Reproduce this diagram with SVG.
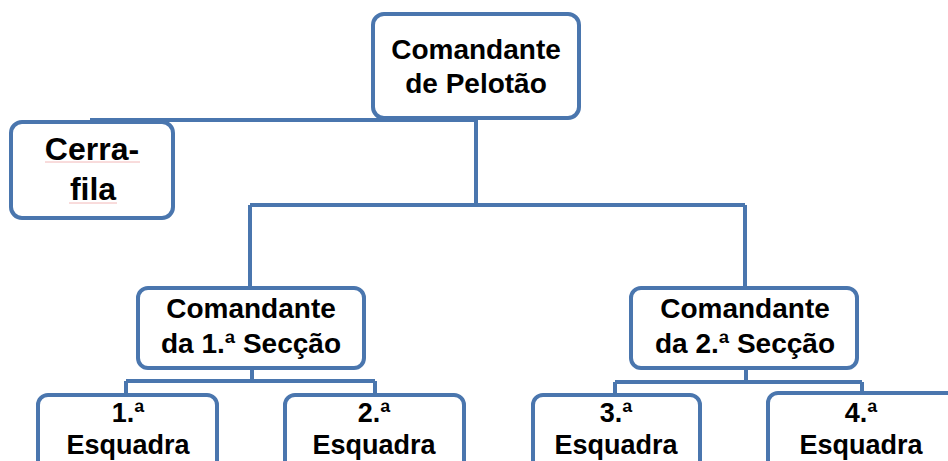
<svg xmlns="http://www.w3.org/2000/svg" width="948" height="461" viewBox="0 0 948 461">
<style>
.box{fill:#fff;stroke:#4A76AE;stroke-width:4}
.conn{fill:none;stroke:#4A76AE;stroke-width:4}
text{font-family:"Liberation Sans",Arial,sans-serif;font-weight:bold;fill:#000;text-anchor:middle}
.t28{font-size:28px}
.t27{font-size:27px}
.t32{font-size:32px}
.sq{stroke:#F2B8B8;stroke-width:1;fill:none}
.ul{stroke:#000;stroke-width:1.6}
</style>
<rect width="948" height="461" fill="#fff"/>
<g id="connectors">
<path class="conn" d="M90 120 H476 V205"/>
<path class="conn" d="M250 205 H745"/>
<path class="conn" d="M250 205 V289"/>
<path class="conn" d="M745 205 V289"/>
<path class="conn" d="M252 369 V381 M126 381 H375 M126 381 V395 M375 381 V395"/>
<path class="conn" d="M746 369 V382 M615 382 H862 M615 382 V395 M862 382 V393"/>
</g>
<g id="n-cmd-pelotao">
<rect class="box" x="373" y="14" width="206" height="104" rx="11"/>
<text class="t28" x="476" y="59">Comandante</text>
<text class="t28" x="476" y="93">de Pelotão</text>
</g>
<g id="n-cerra-fila">
<rect class="box" x="11" y="122" width="162" height="96" rx="11"/>
<text class="t32" x="92" y="160">Cerra-</text>
<text class="t32" x="93" y="200">fila</text>
<path class="sq" d="M45 162 H140 M69 203 H117"/>
</g>
<g id="n-cmd-sec1">
<rect class="box" x="138" y="288" width="226" height="80" rx="10"/>
<text class="t28" x="251" y="318">Comandante</text>
<text class="t28" x="251" y="353">da 1.ª Secção</text>
</g>
<g id="n-cmd-sec2">
<rect class="box" x="631" y="288" width="226" height="80" rx="10"/>
<text class="t28" x="745" y="318">Comandante</text>
<text class="t28" x="745" y="353">da 2.ª Secção</text>
</g>
<g id="n-esq1">
<rect class="box" x="38" y="395" width="179" height="80" rx="10"/>
<text class="t27" x="128" y="422">1.ª</text>
<text class="t27" x="128" y="454">Esquadra</text>
</g>
<g id="n-esq2">
<rect class="box" x="285" y="395" width="179" height="80" rx="10"/>
<text class="t27" x="374" y="422">2.ª</text>
<text class="t27" x="374" y="454">Esquadra</text>
</g>
<g id="n-esq3">
<rect class="box" x="533" y="395" width="167" height="80" rx="10"/>
<text class="t27" x="616" y="422">3.ª</text>
<text class="t27" x="616" y="454">Esquadra</text>
</g>
<g id="n-esq4">
<rect class="box" x="768" y="393" width="190" height="80" rx="10"/>
<text class="t27" x="861" y="422">4.ª</text>
<text class="t27" x="861" y="454">Esquadra</text>
</g>
</svg>
